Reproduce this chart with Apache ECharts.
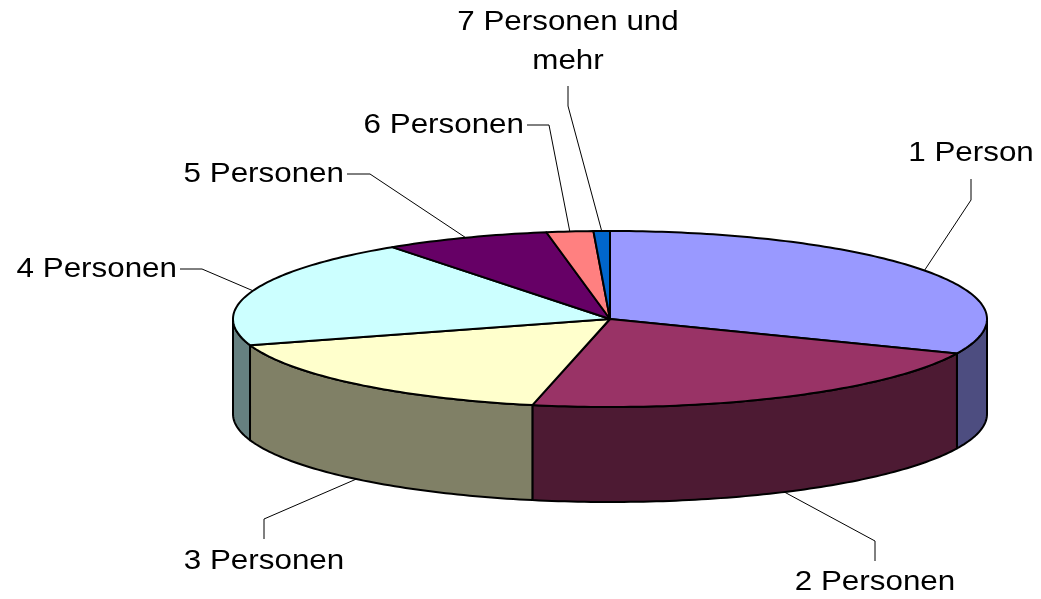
<!DOCTYPE html>
<html>
<head>
<meta charset="utf-8">
<script src="https://cdn.jsdelivr.net/npm/echarts@6/dist/echarts.min.js"></script>
<style>
  html, body { margin: 0; padding: 0; background: #fff; }
  #chart { width: 1041px; height: 599px; }
</style>
</head>
<body>
<div id="chart"></div>
<script>
// Haushalte nach Größe (Anteil in %)
var categories = ['1 Person', '2 Personen', '3 Personen', '4 Personen', '5 Personen', '6 Personen', '7 Personen und\nmehr'];
var values = [31.4, 21.9, 16.9, 20.0, 7.1, 2.0, 0.7];
var topColors = ['#9999FF', '#993366', '#FFFFCC', '#CCFFFF', '#660066', '#FF8080', '#0066CC'];
var sideColors = ['#4D4D80', '#4D1A33', '#808066', '#668080', '#330033', '#804040', '#003366'];

// Beschriftungen: Knick der Führungslinie, Linienende, Textpunkt, Ausrichtung
var labelLayout = [
  { elbow: [971, 200], end: [971, 179], text: [971, 153], align: 'center' },
  { elbow: [875, 541], end: [875, 561], text: [875, 582], align: 'center' },
  { elbow: [264, 519], end: [264, 539], text: [264, 561], align: 'center' },
  { elbow: [202, 269], end: [180, 269], text: [177, 269], align: 'right' },
  { elbow: [370, 174], end: [347, 174], text: [344, 174], align: 'right' },
  { elbow: [549, 125], end: [527, 125], text: [524, 125], align: 'right' },
  { elbow: [568, 106], end: [568, 86], text: [568, 42], align: 'center' }
];

// Geometrie der Torte
var cx = 610, cy = 319, rx = 377, ry = 88, depth = 95;
var total = values.reduce(function (s, v) { return s + v; }, 0);
var starts = [];
values.reduce(function (acc, v) { starts.push(acc); return acc + v / total * Math.PI * 2; }, 0);

function pt(a, dy) {
  return [cx + rx * Math.sin(a), cy - ry * Math.cos(a) + (dy || 0)];
}
function arc(a0, a1, dy) {
  var pts = [];
  var n = Math.max(2, Math.ceil((a1 - a0) / (Math.PI / 180)));
  for (var k = 0; k <= n; k++) pts.push(pt(a0 + (a1 - a0) * k / n, dy));
  return pts;
}

function renderItem(params, api) {
  var i = params.dataIndex;
  var a0 = starts[i];
  var a1 = a0 + values[i] / total * Math.PI * 2;
  var children = [];
  //Oberseite
  children.push({
    type: 'polygon', z2: 2,
    shape: { points: [[cx, cy]].concat(arc(a0, a1, 0)) },
    style: { fill: topColors[i], stroke: '#000', lineWidth: 2, lineJoin: 'round' }
  });
  //sichtbare Mantelfläche (vordere Hälfte)
  var s0 = Math.max(a0, Math.PI / 2), s1 = Math.min(a1, Math.PI * 1.5);
  if (s1 > s0) {
    children.push({
      type: 'polygon', z2: 1,
      shape: { points: arc(s0, s1, 0).concat(arc(s0, s1, depth).reverse()) },
      style: { fill: sideColors[i], stroke: '#000', lineWidth: 2, lineJoin: 'round' }
    });
  }
  //Führungslinie + Text
  var mid = (a0 + a1) / 2;
  var front = mid > Math.PI / 2 && mid < Math.PI * 1.5;
  var anchor = pt(mid, front ? depth : 0);
  var lay = labelLayout[i];
  children.push({
    type: 'polyline', z2: 3,
    shape: { points: [anchor, lay.elbow, lay.end] },
    style: { stroke: '#000', lineWidth: 1, fill: null }
  });
  children.push({
    type: 'text', z2: 3,
    x: lay.text[0], y: lay.text[1], scaleX: 1.12,
    style: {
      text: categories[i],
      fontFamily: 'Liberation Sans, Arial, sans-serif',
      fontSize: 28,
      lineHeight: 39,
      fill: '#000',
      align: lay.align,
      verticalAlign: 'middle'
    }
  });
  return { type: 'group', children: children };
}

var myChart = echarts.init(document.getElementById('chart'));
var option = {
  animation: false,
  backgroundColor: '#fff',
  series: [{
    type: 'custom',
    coordinateSystem: 'none',
    renderItem: renderItem,
    data: values
  }]
};
myChart.setOption(option);
</script>
</body>
</html>
